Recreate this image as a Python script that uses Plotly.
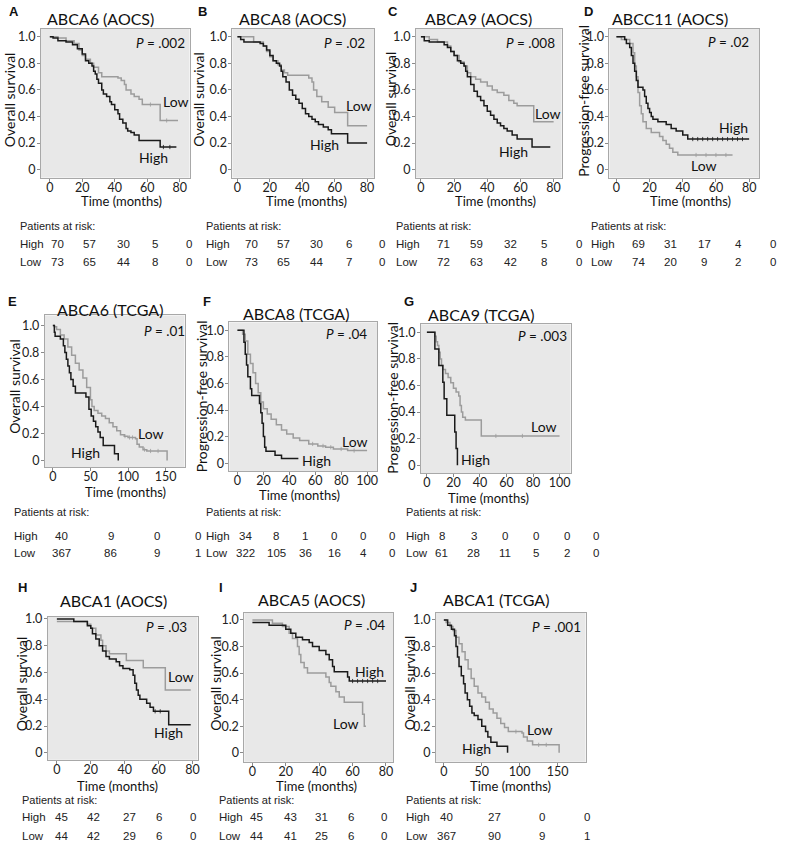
import bisect
import plotly.graph_objects as go

W, H = 794, 853
BLACK = "#1a1a1a"
GRAY = "#9c9c9c"
FONT = "Lato"
TFONT = "Liberation Sans"

# ---------------- data ----------------
A_high_t = [0, 2, 5, 10, 14, 17, 20, 22, 24, 26, 27, 28, 29, 30, 32, 33, 35, 37, 38, 40, 42, 43, 45, 47, 48, 50, 52, 55, 68, 78]
A_high_s = [1.0, 0.99, 0.97, 0.96, 0.94, 0.91, 0.87, 0.82, 0.80, 0.78, 0.74, 0.72, 0.68, 0.65, 0.60, 0.57, 0.55, 0.51, 0.49, 0.45, 0.42, 0.38, 0.35, 0.31, 0.29, 0.28, 0.26, 0.22, 0.17, 0.17]
A_low_t = [0, 5, 10, 15, 18, 20, 22, 25, 27, 30, 32, 42, 44, 46, 47, 50, 52, 55, 57, 68, 79]
A_low_s = [1.0, 0.99, 0.97, 0.95, 0.90, 0.86, 0.83, 0.80, 0.77, 0.73, 0.70, 0.69, 0.67, 0.64, 0.60, 0.57, 0.55, 0.53, 0.49, 0.37, 0.37]

B_high_t = [0, 2, 4, 14, 16, 18, 20, 22, 24, 26, 27, 28, 30, 32, 34, 36, 38, 40, 42, 44, 46, 48, 50, 53, 56, 58, 68, 80]
B_high_s = [1.0, 0.98, 0.96, 0.95, 0.93, 0.90, 0.86, 0.82, 0.80, 0.78, 0.74, 0.70, 0.66, 0.60, 0.56, 0.53, 0.50, 0.46, 0.42, 0.40, 0.38, 0.36, 0.34, 0.32, 0.30, 0.27, 0.20, 0.20]
B_low_t = [0, 10, 16, 18, 20, 22, 25, 27, 29, 31, 44, 46, 47, 49, 52, 56, 60, 68, 80]
B_low_s = [1.0, 0.96, 0.93, 0.89, 0.85, 0.82, 0.79, 0.75, 0.73, 0.71, 0.69, 0.66, 0.60, 0.55, 0.51, 0.47, 0.43, 0.33, 0.33]

C_high_t = [0, 2, 5, 14, 16, 18, 20, 22, 24, 26, 27, 28, 30, 32, 34, 36, 38, 40, 42, 44, 46, 48, 50, 52, 55, 58, 67, 78]
C_high_s = [1.0, 0.97, 0.96, 0.94, 0.92, 0.89, 0.86, 0.82, 0.80, 0.78, 0.74, 0.70, 0.64, 0.59, 0.55, 0.52, 0.48, 0.44, 0.41, 0.38, 0.35, 0.33, 0.31, 0.29, 0.26, 0.23, 0.17, 0.17]
C_low_t = [0, 5, 10, 16, 18, 20, 23, 26, 28, 30, 33, 36, 40, 43, 46, 50, 53, 56, 58, 68, 80]
C_low_s = [1.0, 0.98, 0.96, 0.93, 0.89, 0.86, 0.81, 0.78, 0.73, 0.70, 0.68, 0.66, 0.63, 0.60, 0.58, 0.56, 0.52, 0.50, 0.48, 0.36, 0.36]

D_high_t = [0, 5, 6, 8, 9, 10, 11, 12, 13, 14, 16, 17, 18, 19, 20, 21, 22, 25, 30, 33, 36, 40, 43, 80]
D_high_s = [1.0, 0.98, 0.95, 0.92, 0.86, 0.80, 0.74, 0.67, 0.62, 0.62, 0.60, 0.55, 0.50, 0.46, 0.43, 0.40, 0.38, 0.36, 0.34, 0.31, 0.29, 0.26, 0.23, 0.23]
D_low_t = [0, 3, 8, 10, 11, 12, 13, 14, 15, 16, 18, 21, 26, 28, 30, 32, 34, 37, 70]
D_low_s = [1.0, 0.98, 0.95, 0.88, 0.78, 0.70, 0.58, 0.48, 0.42, 0.36, 0.31, 0.28, 0.25, 0.22, 0.19, 0.16, 0.13, 0.11, 0.11]

E_high_t = [0, 2, 3, 10, 14, 16, 18, 20, 22, 24, 27, 30, 44, 48, 51, 54, 57, 60, 63, 67, 82, 87, 87]
E_high_s = [1.0, 0.95, 0.92, 0.90, 0.85, 0.80, 0.75, 0.70, 0.65, 0.60, 0.55, 0.50, 0.47, 0.38, 0.33, 0.29, 0.25, 0.21, 0.17, 0.11, 0.05, 0.05, 0.0]
E_low_t = [0, 2, 5, 10, 15, 20, 25, 30, 35, 40, 45, 50, 52, 55, 60, 65, 70, 75, 80, 85, 90, 95, 100, 110, 112, 115, 120, 125, 152, 152]
E_low_s = [1.0, 0.99, 0.97, 0.93, 0.90, 0.84, 0.78, 0.72, 0.67, 0.61, 0.54, 0.45, 0.40, 0.37, 0.35, 0.33, 0.31, 0.28, 0.25, 0.22, 0.19, 0.18, 0.17, 0.16, 0.12, 0.10, 0.08, 0.07, 0.07, 0.0]

F_high_t = [0, 5, 6, 7, 8, 10, 11, 17, 18, 19, 20, 21, 22, 29, 34, 47]
F_high_s = [1.0, 0.91, 0.82, 0.74, 0.65, 0.56, 0.51, 0.45, 0.38, 0.30, 0.20, 0.12, 0.09, 0.06, 0.035, 0.035]
F_low_t = [0, 4, 6, 8, 10, 12, 14, 16, 18, 20, 23, 26, 30, 34, 38, 43, 48, 55, 62, 68, 74, 85, 100]
F_low_s = [1.0, 0.97, 0.92, 0.82, 0.75, 0.68, 0.60, 0.53, 0.46, 0.41, 0.37, 0.33, 0.29, 0.25, 0.22, 0.19, 0.17, 0.145, 0.13, 0.12, 0.107, 0.095, 0.095]

G_high_t = [0, 6, 9, 12, 13, 15, 21, 22, 23]
G_high_s = [1.0, 0.875, 0.75, 0.625, 0.5, 0.375, 0.25, 0.125, 0.0]
G_low_t = [0, 6, 7, 8, 9, 10, 11, 12, 14, 16, 18, 20, 22, 24, 25, 26, 27, 29, 41, 100]
G_low_s = [1.0, 0.97, 0.93, 0.90, 0.85, 0.80, 0.75, 0.72, 0.69, 0.66, 0.62, 0.58, 0.55, 0.52, 0.45, 0.40, 0.36, 0.34, 0.22, 0.22]

H_high_t = [0, 10, 18, 20, 21, 23, 25, 27, 29, 31, 35, 37, 39, 43, 45, 46, 47, 48, 49, 53, 55, 57, 66, 79]
H_high_s = [1.0, 0.98, 0.95, 0.93, 0.89, 0.85, 0.80, 0.76, 0.72, 0.70, 0.68, 0.65, 0.63, 0.62, 0.58, 0.52, 0.47, 0.43, 0.40, 0.37, 0.34, 0.31, 0.21, 0.21]
H_low_t = [0, 18, 20, 23, 26, 27, 29, 31, 41, 51, 64, 79]
H_low_s = [0.98, 0.96, 0.93, 0.88, 0.84, 0.80, 0.76, 0.74, 0.69, 0.635, 0.47, 0.47]

I_high_t = [0, 10, 20, 23, 26, 30, 34, 36, 40, 44, 46, 48, 49, 57, 58, 80]
I_high_s = [0.98, 0.96, 0.93, 0.90, 0.87, 0.85, 0.83, 0.80, 0.77, 0.74, 0.70, 0.65, 0.61, 0.57, 0.54, 0.54]
I_low_t = [0, 12, 18, 22, 24, 27, 28, 29, 31, 33, 44, 46, 47, 50, 52, 55, 66, 67, 68]
I_low_s = [1.0, 0.975, 0.95, 0.90, 0.86, 0.80, 0.74, 0.68, 0.64, 0.60, 0.57, 0.53, 0.50, 0.46, 0.42, 0.38, 0.29, 0.20, 0.20]

J_high_t = [0, 5, 10, 14, 16, 18, 20, 23, 26, 28, 31, 34, 37, 40, 45, 50, 55, 58, 62, 70, 84, 84]
J_high_s = [1.0, 0.96, 0.93, 0.88, 0.80, 0.72, 0.65, 0.58, 0.52, 0.45, 0.40, 0.35, 0.30, 0.28, 0.25, 0.20, 0.16, 0.12, 0.08, 0.05, 0.05, 0.0]
J_low_t = [0, 3, 8, 12, 16, 20, 24, 28, 32, 36, 40, 45, 50, 55, 60, 65, 70, 75, 80, 85, 103, 105, 110, 117, 152, 152]
J_low_s = [1.0, 0.98, 0.95, 0.92, 0.87, 0.82, 0.76, 0.70, 0.63, 0.56, 0.50, 0.45, 0.42, 0.38, 0.33, 0.30, 0.26, 0.22, 0.19, 0.16, 0.15, 0.12, 0.09, 0.06, 0.06, 0.0]

# censoring times (small tick marks on the curves)
A_cens_high = [70, 74]
A_cens_low = [62, 72]
D_cens_high = [46, 49, 52, 55, 58, 61, 64, 67, 70, 73, 76]
D_cens_low = [48, 54, 60, 66]
E_cens_low = [96, 102, 106, 122, 130, 140]
F_cens_low = [58, 66, 72, 80, 90]
G_cens_low = [52, 72]
H_cens_high = [58, 61]
I_cens_high = [60, 63, 66, 69, 72, 75]
J_cens_low = [95, 125, 135]

# patients at risk
A_risk_high = [70, 57, 30, 5, 0]
A_risk_low = [73, 65, 44, 8, 0]
B_risk_high = [70, 57, 30, 6, 0]
B_risk_low = [73, 65, 44, 7, 0]
C_risk_high = [71, 59, 32, 5, 0]
C_risk_low = [72, 63, 42, 8, 0]
D_risk_high = [69, 31, 17, 4, 0]
D_risk_low = [74, 20, 9, 2, 0]
E_risk_high = [40, 9, 0, 0]
E_risk_low = [367, 86, 9, 1]
F_risk_high = [34, 8, 1, 0, 0, 0]
F_risk_low = [322, 105, 36, 16, 4, 0]
G_risk_high = [8, 3, 0, 0, 0, 0]
G_risk_low = [61, 28, 11, 5, 2, 0]
H_risk_high = [45, 42, 27, 6, 0]
H_risk_low = [44, 42, 29, 6, 0]
I_risk_high = [45, 43, 31, 6, 0]
I_risk_low = [44, 41, 25, 6, 0]
J_risk_high = [40, 27, 0, 0]
J_risk_low = [367, 90, 9, 1]

titles = ["ABCA6 (AOCS)", "ABCA8 (AOCS)", "ABCA9 (AOCS)", "ABCC11 (AOCS)",
          "ABCA6 (TCGA)", "ABCA8 (TCGA)", "ABCA9 (TCGA)",
          "ABCA1 (AOCS)", "ABCA5 (AOCS)", "ABCA1 (TCGA)"]
letters = ["A", "B", "C", "D", "E", "F", "G", "H", "I", "J"]
pvalues = [".002", ".02", ".008", ".02", ".01", ".04", ".003", ".03", ".04", ".001"]
ylabels = ["Overall survival", "Overall survival", "Overall survival", "Progression-free survival",
           "Overall survival", "Progression-free survival", "Progression-free survival",
           "Overall survival", "Overall survival", "Overall survival"]
ticks80 = [0, 20, 40, 60, 80]
ticks100 = [0, 20, 40, 60, 80, 100]
ticks150 = [0, 50, 100, 150]
yticks = [0, 0.2, 0.4, 0.6, 0.8, 1.0]
yticktext = ["0", "0.2", "0.4", "0.6", "0.8", "1.0"]

curves_high = [(A_high_t, A_high_s), (B_high_t, B_high_s), (C_high_t, C_high_s), (D_high_t, D_high_s),
               (E_high_t, E_high_s), (F_high_t, F_high_s), (G_high_t, G_high_s),
               (H_high_t, H_high_s), (I_high_t, I_high_s), (J_high_t, J_high_s)]
curves_low = [(A_low_t, A_low_s), (B_low_t, B_low_s), (C_low_t, C_low_s), (D_low_t, D_low_s),
              (E_low_t, E_low_s), (F_low_t, F_low_s), (G_low_t, G_low_s),
              (H_low_t, H_low_s), (I_low_t, I_low_s), (J_low_t, J_low_s)]
cens_high = [A_cens_high, [], [], D_cens_high, [], [], [], H_cens_high, I_cens_high, []]
cens_low = [A_cens_low, [], [], D_cens_low, E_cens_low, F_cens_low, G_cens_low, [], [], J_cens_low]
risks = [(A_risk_high, A_risk_low), (B_risk_high, B_risk_low), (C_risk_high, C_risk_low), (D_risk_high, D_risk_low),
         (E_risk_high, E_risk_low), (F_risk_high, F_risk_low), (G_risk_high, G_risk_low),
         (H_risk_high, H_risk_low), (I_risk_high, I_risk_low), (J_risk_high, J_risk_low)]

# ---------------- layout (pixel geometry in the reference picture) ----------------
layout_spec = [
    dict(box=(41, 23, 190, 173), xr=(-5.5, 86.1), yr=(-0.06, 1.06), xt=ticks80, tc=(101, 13), lp=(14, 6),
         yl=(9, 94), xl=(122, 197), pp=(68, 0.95), lo=(78, 0.51), hi=(64, 0.09),
         tx=18, tv=[58, 90, 124, 155, 189], ty=(222, 240, 258)),
    dict(box=(233, 23, 375, 173), xr=(-3.1, 84.3), yr=(-0.06, 1.06), xt=ticks80, tc=(293, 13), lp=(203, 6),
         yl=(199, 94), xl=(307, 197), pp=(66, 0.95), lo=(75, 0.485), hi=(54, 0.19),
         tx=205, tv=[252, 284, 317, 350, 383], ty=(222, 240, 258)),
    dict(box=(417, 23, 563, 173), xr=(-3.0, 84.8), yr=(-0.06, 1.06), xt=ticks80, tc=(480, 13), lp=(394, 6),
         yl=(391, 94), xl=(497, 197), pp=(66, 0.95), lo=(76.6, 0.42), hi=(56, 0.14),
         tx=395, tv=[445, 478, 512, 545, 580], ty=(222, 240, 258)),
    dict(box=(611, 23, 761, 173), xr=(-4.2, 86.0), yr=(-0.06, 1.06), xt=ticks80, tc=(672, 13), lp=(590, 6),
         yl=(585, 96), xl=(692, 197), pp=(67.5, 0.96), lo=(53, 0.03), hi=(70.5, 0.32),
         tx=590, tv=[640, 672, 706, 740, 775], ty=(222, 240, 258)),
    dict(box=(45, 312, 185, 465), xr=(-10.6, 175.2), yr=(-0.05, 1.074), xt=ticks150, tc=(110, 306), lp=(13, 298),
         yl=(15, 383), xl=(126, 490), pp=(148, 0.96), lo=(131, 0.20), hi=(44, 0.06),
         tx=12, tv=[62, 111, 157, 198], ty=(510, 534, 552)),
    dict(box=(230, 319, 378, 469), xr=(-6.2, 107.7), yr=(-0.06, 1.06), xt=ticks100, tc=(297, 310), lp=(208, 298),
         yl=(202, 393), xl=(300, 493), pp=(84, 0.97), lo=(90.5, 0.16), hi=(61, 0.02),
         tx=205, tv=[246, 277, 306, 335, 364, 393], ty=(510, 534, 552)),
    dict(box=(422, 321, 572, 471), xr=(-4.5, 108.3), yr=(-0.06, 1.06), xt=ticks100, tc=(482, 311), lp=(410, 298),
         yl=(394, 395), xl=(490, 496), pp=(87, 0.97), lo=(88, 0.29), hi=(36.5, 0.04),
         tx=405, tv=[443, 475, 506, 537, 568, 598], ty=(510, 534, 552)),
    dict(box=(48, 616, 198, 760), xr=(-5.3, 83.0), yr=(-0.052, 1.015), xt=ticks80, tc=(114, 599), lp=(23, 586),
         yl=(21, 683), xl=(118, 786), pp=(65, 0.94), lo=(73, 0.57), hi=(66, 0.15),
         tx=20, tv=[62, 94, 130, 159, 193], ty=(801, 818, 837)),
    dict(box=(245, 612, 394, 762), xr=(-4.8, 84.2), yr=(-0.067, 1.052), xt=ticks80, tc=(312, 598), lp=(222, 586),
         yl=(216, 683), xl=(317, 786), pp=(67, 0.96), lo=(56, 0.22), hi=(70, 0.61),
         tx=218, tv=[257, 291, 322, 352, 385], ty=(801, 818, 837)),
    dict(box=(437, 612, 587, 762), xr=(-10.5, 186.8), yr=(-0.067, 1.052), xt=ticks150, tc=(497, 598), lp=(415, 586),
         yl=(410, 682), xl=(512, 786), pp=(149, 0.95), lo=(127, 0.175), hi=(42.4, 0.03),
         tx=405, tv=[448, 496, 543, 588], ty=(801, 818, 837)),
]


def px(x):
    return x / W


def py(y):
    return 1 - y / H


def step_value(ts, ss, t):
    # survival level of the step curve at time t (value of the last step at or before t)
    k = bisect.bisect_right(ts, t) - 1
    return ss[max(k, 0)]


fig = go.Figure()
annotations = []
layout_axes = {}

for i, spec in enumerate(layout_spec):
    n = i + 1
    xa = "x" if n == 1 else f"x{n}"
    ya = "y" if n == 1 else f"y{n}"
    xkey = "xaxis" if n == 1 else f"xaxis{n}"
    ykey = "yaxis" if n == 1 else f"yaxis{n}"
    l, t, r, b = spec["box"]
    layout_axes[xkey] = dict(
        domain=[px(l), px(r)], range=list(spec["xr"]), anchor=ya,
        tickvals=spec["xt"], ticks="outside", ticklen=3, tickcolor="#8a8a8a",
        ticklabelstandoff=-5,
        showline=True, mirror=True, linecolor="#a8a8a8", linewidth=1,
        showgrid=False, zeroline=False, tickfont=dict(family=FONT, size=12.5, color="#222"),
    )
    layout_axes[ykey] = dict(
        domain=[py(b), py(t)], range=list(spec["yr"]), anchor=xa,
        tickvals=yticks, ticktext=yticktext, ticks="outside", ticklen=3, tickcolor="#8a8a8a",
        ticklabelstandoff=-1,
        showline=True, mirror=True, linecolor="#a8a8a8", linewidth=1,
        showgrid=False, zeroline=False, tickfont=dict(family=FONT, size=12.5, color="#222"),
    )
    lt, ls = curves_low[i]
    ht, hs = curves_high[i]
    fig.add_trace(go.Scatter(x=lt, y=ls, mode="lines", line=dict(color=GRAY, width=1.5, shape="hv"),
                             xaxis=xa, yaxis=ya, showlegend=False, hoverinfo="skip"))
    fig.add_trace(go.Scatter(x=ht, y=hs, mode="lines", line=dict(color=BLACK, width=1.5, shape="hv"),
                             xaxis=xa, yaxis=ya, showlegend=False, hoverinfo="skip"))
    for cts, (ct, cs), col in ((cens_low[i], (lt, ls), GRAY), (cens_high[i], (ht, hs), BLACK)):
        if cts:
            fig.add_trace(go.Scatter(x=cts, y=[step_value(ct, cs, c) for c in cts], mode="markers",
                                     marker=dict(symbol="line-ns", size=3, line=dict(color=col, width=0.8)),
                                     xaxis=xa, yaxis=ya, showlegend=False, hoverinfo="skip"))

    annotations.append(dict(text=titles[i], x=px(spec["tc"][0]), y=py(spec["tc"][1]), xref="paper", yref="paper",
                            showarrow=False, xanchor="center", yanchor="middle",
                            font=dict(family=FONT, size=16, color="#111")))
    annotations.append(dict(text=f"<b>{letters[i]}</b>", x=px(spec["lp"][0]), y=py(spec["lp"][1]), xref="paper",
                            yref="paper", showarrow=False, xanchor="center", yanchor="middle",
                            font=dict(family=TFONT, size=13, color="#111")))
    annotations.append(dict(text=ylabels[i], x=px(spec["yl"][0]), y=py(spec["yl"][1]), xref="paper", yref="paper",
                            showarrow=False, textangle=-90, xanchor="center", yanchor="middle",
                            font=dict(family=FONT, size=14, color="#111")))
    annotations.append(dict(text="Time (months)", x=px(spec["xl"][0]), y=py(spec["xl"][1]), xref="paper",
                            yref="paper", showarrow=False, xanchor="center", yanchor="middle",
                            font=dict(family=FONT, size=13, color="#111")))
    annotations.append(dict(text=f"<i>P</i> = {pvalues[i]}", x=spec["pp"][0], y=spec["pp"][1], xref=xa, yref=ya,
                            showarrow=False, xanchor="center", yanchor="middle",
                            font=dict(family=FONT, size=13.5, color="#111")))
    annotations.append(dict(text="Low", x=spec["lo"][0], y=spec["lo"][1], xref=xa, yref=ya, showarrow=False,
                            xanchor="center", yanchor="middle", font=dict(family=FONT, size=14, color="#111")))
    annotations.append(dict(text="High", x=spec["hi"][0], y=spec["hi"][1], xref=xa, yref=ya, showarrow=False,
                            xanchor="center", yanchor="middle", font=dict(family=FONT, size=14, color="#111")))
    ty0, ty1, ty2 = spec["ty"]
    annotations.append(dict(text="Patients at risk:", x=px(spec["tx"]), y=py(ty0), xref="paper", yref="paper",
                            showarrow=False, xanchor="left", yanchor="middle",
                            font=dict(family=TFONT, size=11, color="#222")))
    rh, rl = risks[i]
    for label, vals, yy in (("High", rh, ty1), ("Low", rl, ty2)):
        annotations.append(dict(text=label, x=px(spec["tx"]), y=py(yy), xref="paper", yref="paper",
                                showarrow=False, xanchor="left", yanchor="middle",
                                font=dict(family=TFONT, size=11.5, color="#222")))
        for xv, v in zip(spec["tv"], vals):
            annotations.append(dict(text=str(v), x=px(xv), y=py(yy), xref="paper", yref="paper",
                                    showarrow=False, xanchor="center", yanchor="middle",
                                    font=dict(family=TFONT, size=11.5, color="#222")))

fig.update_layout(
    width=W, height=H, margin=dict(l=0, r=0, t=0, b=0),
    paper_bgcolor="white", plot_bgcolor="#e8e8e8",
    annotations=annotations, showlegend=False,
    **layout_axes,
)

fig.write_html("out.html", config={"displayModeBar": False},
               post_script="document.body.style.margin='0px';")
